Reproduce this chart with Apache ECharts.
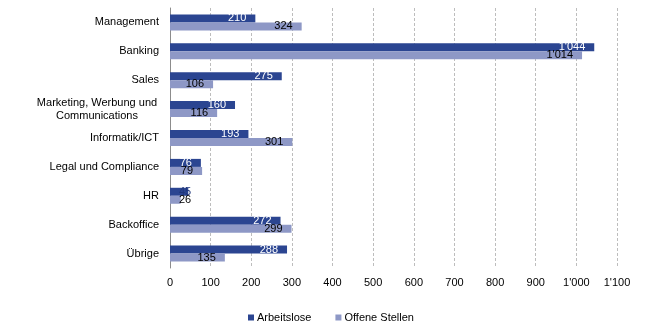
<!DOCTYPE html>
<html>
<head>
<meta charset="utf-8">
<script src="https://cdn.jsdelivr.net/npm/echarts@6/dist/echarts.min.js"></script>
<style>
html,body{margin:0;padding:0;background:#fff;}
#chart{width:645px;height:327px;}
</style>
</head>
<body>
<div id="chart"></div>
<script>
const categories = ["Management", "Banking", "Sales", "Marketing, Werbung und\nCommunications", "Informatik/ICT", "Legal und Compliance", "HR", "Backoffice", "Übrige"];
const arbeitslose = [210, 1044, 275, 160, 193, 76, 45, 272, 288];
const offeneStellen = [324, 1014, 106, 116, 301, 79, 26, 299, 135];
const seriesNames = ["Arbeitslose", "Offene Stellen"];
const xTicks = [0, 100, 200, 300, 400, 500, 600, 700, 800, 900, 1000, 1100];

function fmt(v) {
  const s = String(Math.round(v));
  return s.replace(/\B(?=(\d{3})+(?!\d))/g, "'");
}

const FONT = "'Liberation Sans', Arial, sans-serif";

function buildData(values, smallColor) {
  return values.map(v => {
    const item = { value: v };
    if (v < 70) {
      item.label = { position: 'insideLeft', distance: 9, color: smallColor };
    }
    return item;
  });
}

const chart = echarts.init(document.getElementById('chart'), null, { renderer: 'canvas' });

chart.setOption({
  animation: false,
  backgroundColor: '#ffffff',
  textStyle: { fontFamily: FONT },
  grid: { left: 170, right: 28, top: 8, bottom: 59, containLabel: false },
  legend: {
    data: seriesNames,
    left: 243,
    top: 307,
    itemWidth: 6,
    itemHeight: 6,
    itemGap: 24,
    icon: 'rect',
    textStyle: { fontFamily: FONT, fontSize: 11, color: '#000', padding: [0, 0, 0, -2] }
  },
  xAxis: {
    type: 'value',
    min: xTicks[0],
    max: xTicks[xTicks.length - 1],
    interval: 100,
    axisLine: { show: false },
    axisTick: { show: false },
    axisLabel: {
      fontFamily: FONT, fontSize: 11, color: '#000', margin: 9,
      formatter: v => fmt(v)
    },
    splitLine: { show: true, lineStyle: { color: '#bdbdbd', type: [3, 2], width: 1 } }
  },
  yAxis: {
    type: 'category',
    data: categories,
    inverse: true,
    axisLine: { show: true, lineStyle: { color: '#8c8c8c', width: 1 } },
    axisTick: { show: false },
    axisLabel: {
      fontFamily: FONT, fontSize: 11, color: '#000', margin: 11,
      lineHeight: 13,
      formatter: v => {
        if (v.indexOf('\n') >= 0) {
          return v.split('\n').map(l => '{c|' + l + '}').join('\n');
        }
        return v;
      },
      rich: {
        c: { width: 124, align: 'center', fontFamily: FONT, fontSize: 11, color: '#000', lineHeight: 13 }
      }
    },
    splitLine: { show: false }
  },
  series: [
    {
      name: seriesNames[0],
      type: 'bar',
      data: buildData(arbeitslose, '#1f367a'),
      barWidth: 8,
      barGap: '0%',
      itemStyle: { color: '#2b4591' },
      label: {
        show: true, position: 'insideRight', distance: 9,
        color: '#ffffff', fontFamily: FONT, fontSize: 11,
        formatter: p => fmt(p.value)
      }
    },
    {
      name: seriesNames[1],
      type: 'bar',
      data: buildData(offeneStellen, '#000000'),
      barWidth: 8,
      barGap: '0%',
      itemStyle: { color: '#8e98c6' },
      label: {
        show: true, position: 'insideRight', distance: 9,
        color: '#000000', fontFamily: FONT, fontSize: 11,
        formatter: p => fmt(p.value)
      }
    }
  ]
});
</script>
</body>
</html>
